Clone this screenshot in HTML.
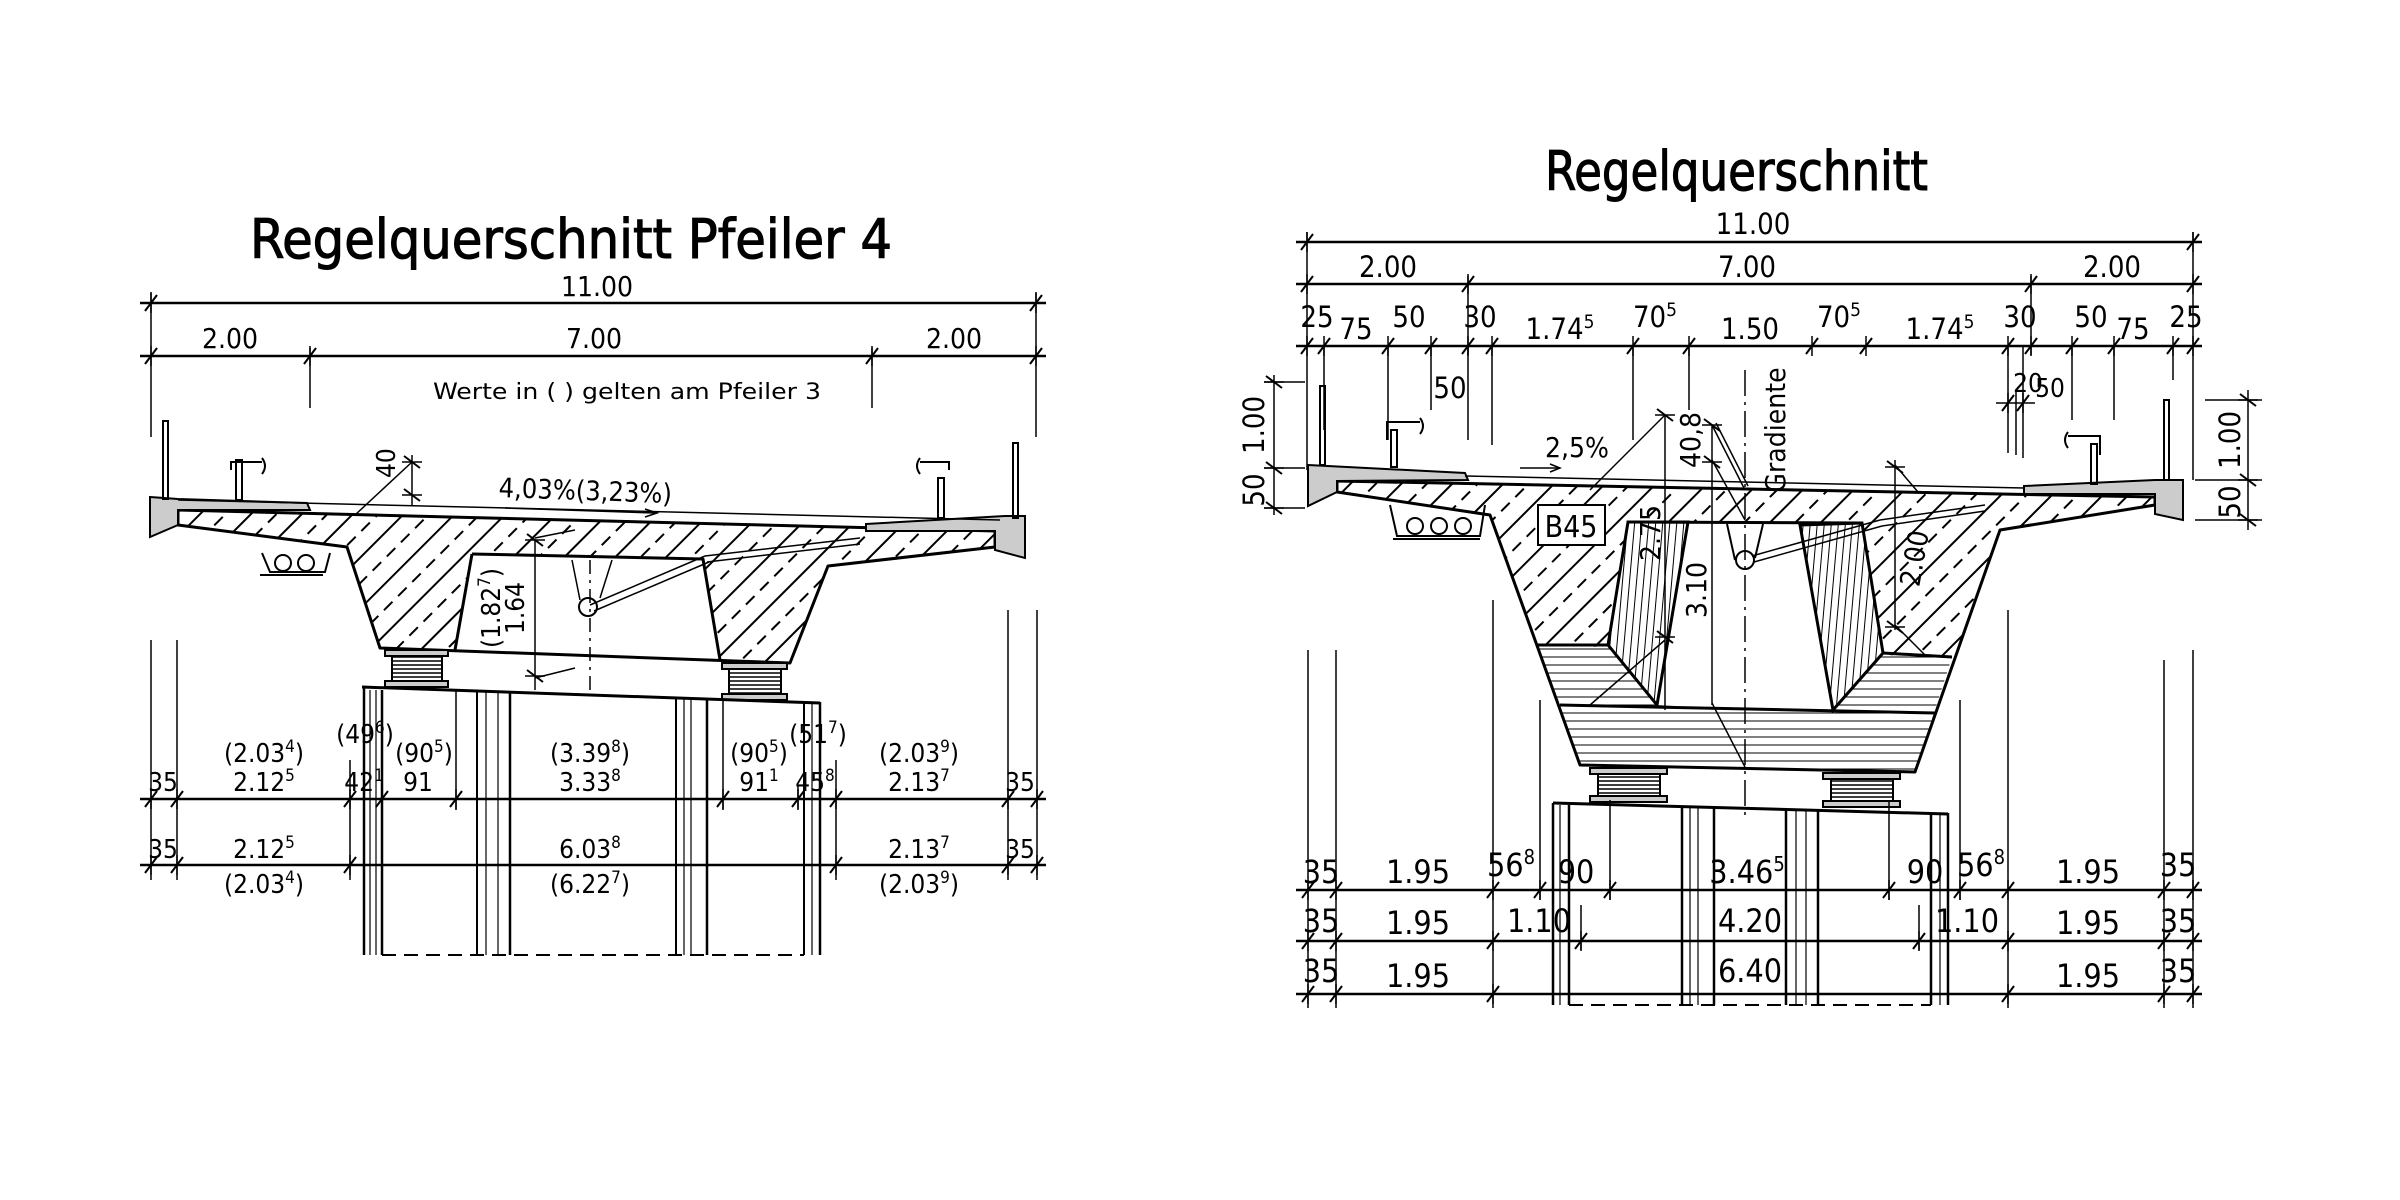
<!DOCTYPE html>
<html><head><meta charset="utf-8"><style>
html,body{margin:0;padding:0;background:#fff}
svg{display:block}
text{font-family:"Liberation Sans Narrow","DejaVu Sans Condensed","Liberation Sans",sans-serif;fill:#000}
.ttl{stroke:#000;stroke-width:1}
</style></head><body>
<svg width="2400" height="1200" viewBox="0 0 2400 1200" xmlns="http://www.w3.org/2000/svg">
<defs>
<pattern id="hd" patternUnits="userSpaceOnUse" width="40" height="36" patternTransform="rotate(-45)">
<line x1="0" y1="1" x2="40" y2="1" stroke="#000" stroke-width="2"/>
<line x1="0" y1="19" x2="40" y2="19" stroke="#000" stroke-width="2" stroke-dasharray="12,8"/>
</pattern>
<pattern id="hh" patternUnits="userSpaceOnUse" width="40" height="8">
<line x1="0" y1="1" x2="40" y2="1" stroke="#000" stroke-width="1"/>
</pattern>
<pattern id="hv" patternUnits="userSpaceOnUse" width="7" height="40" patternTransform="rotate(5)">
<line x1="1" y1="0" x2="1" y2="40" stroke="#000" stroke-width="1"/>
</pattern>
<pattern id="br" patternUnits="userSpaceOnUse" width="20" height="4">
<line x1="0" y1="1" x2="20" y2="1" stroke="#000" stroke-width="1.5"/>
</pattern>
<g id="t"><line x1="-6" y1="8" x2="6" y2="-8" stroke="#000" stroke-width="2"/><line x1="0" y1="-10" x2="0" y2="10" stroke="#000" stroke-width="1.5"/></g>
<g id="tv"><line x1="-8" y1="-6" x2="8" y2="6" stroke="#000" stroke-width="2"/><line x1="-10" y1="0" x2="10" y2="0" stroke="#000" stroke-width="1.5"/></g>
</defs>

<!-- ================= LEFT DRAWING ================= -->
<text class="ttl" x="250" y="258" font-size="54" textLength="642" lengthAdjust="spacingAndGlyphs">Regelquerschnitt  Pfeiler  4</text>

<g stroke="#000" stroke-width="2.5" fill="none">
<line x1="140" y1="303" x2="1046" y2="303"/>
<line x1="140" y1="356" x2="1046" y2="356"/>
</g>
<g stroke="#000" stroke-width="1.5">
<line x1="151" y1="292" x2="151" y2="437"/>
<line x1="1036" y1="292" x2="1036" y2="437"/>
<line x1="310" y1="348" x2="310" y2="408"/>
<line x1="872" y1="348" x2="872" y2="408"/>
</g>
<use href="#t" x="151" y="303"/><use href="#t" x="1036" y="303"/>
<use href="#t" x="151" y="356"/><use href="#t" x="310" y="356"/><use href="#t" x="872" y="356"/><use href="#t" x="1036" y="356"/>
<text x="597" y="296" font-size="28" text-anchor="middle">11.00</text>
<text x="230" y="348" font-size="28" text-anchor="middle">2.00</text>
<text x="594" y="348" font-size="28" text-anchor="middle">7.00</text>
<text x="954" y="348" font-size="28" text-anchor="middle">2.00</text>
<text x="433" y="399" font-size="22" textLength="388" lengthAdjust="spacingAndGlyphs">Werte in ( ) gelten am Pfeiler 3</text>

<polygon points="178,510 995,531 995,547 828,566 790,663 380,648 347,547 178,525" fill="url(#hd)"/>
<polygon points="472,554 703,559 720,660 455,650" fill="#fff"/>
<g stroke="#000" stroke-width="3" fill="none" stroke-linejoin="round">
<polygon points="178,510 995,531 995,547 828,566 790,663 380,648 347,547 178,525"/>
<polyline points="472,554 703,559 720,660"/>
<line x1="472" y1="554" x2="455" y2="650"/>
</g>
<polygon points="150,497 178,499 307,503 310,510 178,510 178,525 150,537" fill="#ccc" stroke="#000" stroke-width="2"/>
<polygon points="866,524 1005,516 1025,516 1025,558 995,550 995,531 866,531" fill="#ccc" stroke="#000" stroke-width="2"/>
<line x1="178" y1="500" x2="1000" y2="520" stroke="#000" stroke-width="1.5"/>
<g stroke="#000" stroke-width="2" fill="none">
<rect x="163" y="421" width="5" height="78"/>
<rect x="1013" y="443" width="5" height="75"/>
<rect x="236" y="460" width="6" height="40"/>
<polyline points="231,470 231,462 262,462"/>
<path d="M262,458 q6,8 0,16"/>
<rect x="938" y="478" width="6" height="40"/>
<polyline points="949,470 949,462 920,462"/>
<path d="M920,458 q-6,8 0,16"/>
<polyline points="262,553 270,572 325,572 330,553"/>
<circle cx="283" cy="563" r="8"/><circle cx="306" cy="563" r="8"/>
<line x1="260" y1="575" x2="323" y2="575"/>
</g>
<g stroke="#000" stroke-width="1.5" fill="none">
<line x1="590" y1="605" x2="705" y2="556"/>
<line x1="594" y1="611" x2="709" y2="562"/>
<line x1="705" y1="556" x2="860" y2="538"/>
<line x1="707" y1="562" x2="860" y2="544"/>
<circle cx="588" cy="607" r="9" stroke-width="2"/>
<polyline points="572,560 580,600"/><polyline points="612,560 600,598"/>
<line x1="590" y1="560" x2="590" y2="690" stroke-dasharray="14,6,3,6"/>
</g>
<g stroke="#000" stroke-width="1.5">
<line x1="355" y1="515" x2="412" y2="462"/>
<line x1="412" y1="455" x2="412" y2="505"/>
<line x1="505" y1="508" x2="655" y2="513"/>
<line x1="535" y1="540" x2="535" y2="690"/>
<line x1="535" y1="538" x2="575" y2="530"/>
<line x1="535" y1="678" x2="575" y2="668"/>
</g>
<use href="#tv" x="412" y="462"/><use href="#tv" x="412" y="495"/>
<use href="#tv" x="535" y="540"/><use href="#tv" x="535" y="676"/>
<path d="M645,509 l12,4 l-12,4" fill="none" stroke="#000" stroke-width="1.5"/>
<text x="395" y="478" font-size="26" transform="rotate(-90 395 478)">40</text>
<text x="585" y="500" font-size="27" text-anchor="middle" transform="rotate(2 585 500)">4,03%(3,23%)</text>
<text x="0" y="0" font-size="26" text-anchor="middle" transform="translate(500,608) rotate(-90)">(1.82<tspan font-size="17" dy="-10">7</tspan><tspan dy="10">)</tspan></text>
<text x="0" y="0" font-size="26" text-anchor="middle" transform="translate(524,608) rotate(-90)">1.64</text>
<g stroke="#000" stroke-width="2">
<rect x="385" y="650" width="63" height="6" fill="#ccc"/>
<rect x="392" y="656" width="50" height="25" fill="url(#br)"/>
<rect x="385" y="681" width="63" height="6" fill="#ccc"/>
<rect x="722" y="663" width="65" height="6" fill="#ccc"/>
<rect x="729" y="669" width="52" height="25" fill="url(#br)"/>
<rect x="722" y="694" width="65" height="6" fill="#ccc"/>
</g>
<g stroke="#000" fill="none">
<line x1="362" y1="687" x2="820" y2="703" stroke-width="3"/>
<line x1="364" y1="687" x2="364" y2="955" stroke-width="2.5"/>
<line x1="370" y1="690" x2="370" y2="955" stroke-width="1.2"/>
<line x1="376" y1="690" x2="376" y2="955" stroke-width="1.2"/>
<line x1="382" y1="690" x2="382" y2="955" stroke-width="2.5"/>
<line x1="477" y1="692" x2="477" y2="955" stroke-width="2"/>
<line x1="486" y1="692" x2="486" y2="955" stroke-width="1.2"/>
<line x1="498" y1="692" x2="498" y2="955" stroke-width="1.2"/>
<line x1="510" y1="692" x2="510" y2="955" stroke-width="2.5"/>
<line x1="676" y1="698" x2="676" y2="955" stroke-width="2"/>
<line x1="684" y1="698" x2="684" y2="955" stroke-width="1.2"/>
<line x1="691" y1="698" x2="691" y2="955" stroke-width="1.2"/>
<line x1="707" y1="698" x2="707" y2="955" stroke-width="2.5"/>
<line x1="804" y1="702" x2="804" y2="955" stroke-width="2"/>
<line x1="812" y1="702" x2="812" y2="955" stroke-width="1.2"/>
<line x1="820" y1="702" x2="820" y2="955" stroke-width="2.5"/>
<line x1="382" y1="955" x2="804" y2="955" stroke-width="2" stroke-dasharray="14,8"/>
</g>
<g stroke="#000" stroke-width="2.5">
<line x1="140" y1="799" x2="1046" y2="799"/>
<line x1="140" y1="865" x2="1046" y2="865"/>
</g>
<g stroke="#000" stroke-width="1.5">
<line x1="151" y1="640" x2="151" y2="880"/>
<line x1="177" y1="640" x2="177" y2="880"/>
<line x1="1008" y1="610" x2="1008" y2="880"/>
<line x1="1037" y1="610" x2="1037" y2="880"/>
<line x1="350" y1="760" x2="350" y2="880"/>
<line x1="456" y1="690" x2="456" y2="810"/>
<line x1="723" y1="700" x2="723" y2="810"/>
<line x1="836" y1="760" x2="836" y2="880"/>
<line x1="798" y1="785" x2="798" y2="810"/>
</g>
<use href="#t" x="151" y="799"/><use href="#t" x="177" y="799"/><use href="#t" x="350" y="799"/><use href="#t" x="382" y="799"/><use href="#t" x="456" y="799"/><use href="#t" x="723" y="799"/><use href="#t" x="798" y="799"/><use href="#t" x="836" y="799"/><use href="#t" x="1008" y="799"/><use href="#t" x="1037" y="799"/>
<use href="#t" x="151" y="865"/><use href="#t" x="177" y="865"/><use href="#t" x="350" y="865"/><use href="#t" x="836" y="865"/><use href="#t" x="1008" y="865"/><use href="#t" x="1037" y="865"/>
<g font-size="26" text-anchor="middle">
<text x="264" y="762">(2.03<tspan font-size="17" dy="-10">4</tspan><tspan dy="10">)</tspan></text>
<text x="365" y="743">(49<tspan font-size="17" dy="-10">6</tspan><tspan dy="10">)</tspan></text>
<text x="424" y="762">(90<tspan font-size="17" dy="-10">5</tspan><tspan dy="10">)</tspan></text>
<text x="590" y="762">(3.39<tspan font-size="17" dy="-10">8</tspan><tspan dy="10">)</tspan></text>
<text x="759" y="762">(90<tspan font-size="17" dy="-10">5</tspan><tspan dy="10">)</tspan></text>
<text x="818" y="743">(51<tspan font-size="17" dy="-10">7</tspan><tspan dy="10">)</tspan></text>
<text x="919" y="762">(2.03<tspan font-size="17" dy="-10">9</tspan><tspan dy="10">)</tspan></text>
<text x="163" y="791">35</text>
<text x="264" y="791">2.12<tspan font-size="17" dy="-10">5</tspan></text>
<text x="364" y="791">42<tspan font-size="17" dy="-10">1</tspan></text>
<text x="418" y="791">91</text>
<text x="590" y="791">3.33<tspan font-size="17" dy="-10">8</tspan></text>
<text x="759" y="791">91<tspan font-size="17" dy="-10">1</tspan></text>
<text x="815" y="791">45<tspan font-size="17" dy="-10">8</tspan></text>
<text x="919" y="791">2.13<tspan font-size="17" dy="-10">7</tspan></text>
<text x="1020" y="791">35</text>
<text x="163" y="858">35</text>
<text x="264" y="858">2.12<tspan font-size="17" dy="-10">5</tspan></text>
<text x="590" y="858">6.03<tspan font-size="17" dy="-10">8</tspan></text>
<text x="919" y="858">2.13<tspan font-size="17" dy="-10">7</tspan></text>
<text x="1020" y="858">35</text>
<text x="264" y="893">(2.03<tspan font-size="17" dy="-10">4</tspan><tspan dy="10">)</tspan></text>
<text x="590" y="893">(6.22<tspan font-size="17" dy="-10">7</tspan><tspan dy="10">)</tspan></text>
<text x="919" y="893">(2.03<tspan font-size="17" dy="-10">9</tspan><tspan dy="10">)</tspan></text>
</g>

<!-- ================= RIGHT DRAWING ================= -->
<text class="ttl" x="1545" y="190" font-size="54" textLength="383" lengthAdjust="spacingAndGlyphs">Regelquerschnitt</text>
<g stroke="#000" stroke-width="2.5">
<line x1="1296" y1="242" x2="2202" y2="242"/>
<line x1="1296" y1="284" x2="2202" y2="284"/>
<line x1="1296" y1="346" x2="2202" y2="346"/>
</g>
<use href="#t" x="1307" y="242"/><use href="#t" x="2193" y="242"/>
<use href="#t" x="1307" y="284"/><use href="#t" x="1468" y="284"/><use href="#t" x="2031" y="284"/><use href="#t" x="2193" y="284"/>
<use href="#t" x="1307" y="346"/><use href="#t" x="1324" y="346"/><use href="#t" x="1388" y="346"/><use href="#t" x="1431" y="346"/><use href="#t" x="1468" y="346"/><use href="#t" x="1492" y="346"/><use href="#t" x="1633" y="346"/><use href="#t" x="1689" y="346"/><use href="#t" x="1812" y="346"/><use href="#t" x="1866" y="346"/><use href="#t" x="2008" y="346"/><use href="#t" x="2031" y="346"/><use href="#t" x="2072" y="346"/><use href="#t" x="2114" y="346"/><use href="#t" x="2173" y="346"/><use href="#t" x="2193" y="346"/>
<g stroke="#000" stroke-width="1.5">
<line x1="1307" y1="232" x2="1307" y2="470"/>
<line x1="2193" y1="232" x2="2193" y2="480"/>
<line x1="1468" y1="276" x2="1468" y2="355"/>
<line x1="2031" y1="276" x2="2031" y2="355"/>
<line x1="1324" y1="346" x2="1324" y2="430"/>
<line x1="1388" y1="346" x2="1388" y2="440"/>
<line x1="1431" y1="346" x2="1431" y2="410"/>
<line x1="1468" y1="346" x2="1468" y2="440"/>
<line x1="1492" y1="346" x2="1492" y2="445"/>
<line x1="1633" y1="346" x2="1633" y2="440"/>
<line x1="1689" y1="346" x2="1689" y2="410"/>
<line x1="2008" y1="346" x2="2008" y2="453"/>
<line x1="2016" y1="390" x2="2016" y2="455"/>
<line x1="2023" y1="346" x2="2023" y2="458"/>
<line x1="2072" y1="346" x2="2072" y2="420"/>
<line x1="2114" y1="346" x2="2114" y2="420"/>
<line x1="2173" y1="346" x2="2173" y2="380"/>
<line x1="1996" y1="403" x2="2035" y2="403"/>
<line x1="1274" y1="375" x2="1274" y2="515"/>
<line x1="1264" y1="382" x2="1305" y2="382"/>
<line x1="1264" y1="468" x2="1305" y2="468"/>
<line x1="1264" y1="508" x2="1305" y2="508"/>
<line x1="2248" y1="390" x2="2248" y2="530"/>
<line x1="2205" y1="400" x2="2262" y2="400"/>
<line x1="2195" y1="480" x2="2262" y2="480"/>
<line x1="2195" y1="520" x2="2262" y2="520"/>
</g>
<use href="#tv" x="1274" y="382"/><use href="#tv" x="1274" y="468"/><use href="#tv" x="1274" y="508"/>
<use href="#tv" x="2248" y="400"/><use href="#tv" x="2248" y="480"/><use href="#tv" x="2248" y="520"/>
<use href="#t" x="2008" y="403"/><use href="#t" x="2023" y="403"/>
<g font-size="29" text-anchor="middle">
<text x="1753" y="234">11.00</text>
<text x="1388" y="277">2.00</text>
<text x="1747" y="277">7.00</text>
<text x="2112" y="277">2.00</text>
<text x="1317" y="327">25</text>
<text x="1356" y="339">75</text>
<text x="1409" y="327">50</text>
<text x="1480" y="327">30</text>
<text x="1560" y="339">1.74<tspan font-size="19" dy="-11">5</tspan></text>
<text x="1655" y="327">70<tspan font-size="19" dy="-11">5</tspan></text>
<text x="1750" y="339">1.50</text>
<text x="1839" y="327">70<tspan font-size="19" dy="-11">5</tspan></text>
<text x="1940" y="339">1.74<tspan font-size="19" dy="-11">5</tspan></text>
<text x="2020" y="327">30</text>
<text x="2091" y="327">50</text>
<text x="2133" y="339">75</text>
<text x="2186" y="327">25</text>
<text x="1450" y="398">50</text>
<text x="2028" y="392" font-size="26">20</text>
<text x="2050" y="397" font-size="26">50</text>
</g>
<text x="0" y="0" font-size="29" text-anchor="middle" transform="translate(1264,425) rotate(-90)">1.00</text>
<text x="0" y="0" font-size="29" text-anchor="middle" transform="translate(1264,490) rotate(-90)">50</text>
<text x="0" y="0" font-size="29" text-anchor="middle" transform="translate(2240,440) rotate(-90)">1.00</text>
<text x="0" y="0" font-size="29" text-anchor="middle" transform="translate(2240,502) rotate(-90)">50</text>

<polygon points="1337,481 2155,497 2155,505 2000,530 1915,772 1580,765 1490,515 1337,492" fill="url(#hd)"/>
<polygon points="1536,645 1952,657 1915,772 1580,765" fill="#fff"/>
<polygon points="1536,645 1952,657 1915,772 1580,765" fill="url(#hh)"/>
<polygon points="1628,522 1862,523 1883,653 1833,710 1657,705 1608,645" fill="#fff"/>
<polygon points="1628,522 1688,522 1657,705 1608,645" fill="url(#hv)" stroke="#000" stroke-width="3"/>
<polygon points="1800,525 1862,523 1883,653 1833,710" fill="url(#hv)" stroke="#000" stroke-width="3"/>
<g stroke="#000" stroke-width="3" fill="none" stroke-linejoin="round">
<polygon points="1337,481 2155,497 2155,505 2000,530 1915,772 1580,765 1490,515 1337,492"/>
<line x1="1628" y1="522" x2="1862" y2="523"/>
<line x1="1536" y1="645" x2="1608" y2="645"/>
<line x1="1883" y1="653" x2="1952" y2="657"/>
<line x1="1560" y1="705" x2="1935" y2="713"/>
</g>
<polygon points="1308,465 1465,473 1468,480 1337,481 1337,492 1308,506" fill="#ccc" stroke="#000" stroke-width="2"/>
<polygon points="2024,486 2155,480 2183,480 2183,520 2155,514 2155,494 2024,494" fill="#ccc" stroke="#000" stroke-width="2"/>
<line x1="1465" y1="476" x2="2024" y2="488" stroke="#000" stroke-width="1.5"/>
<g stroke="#000" stroke-width="2" fill="none">
<rect x="1320" y="386" width="5" height="79"/>
<rect x="2164" y="400" width="5" height="80"/>
<rect x="1391" y="430" width="6" height="37"/>
<polyline points="1387,440 1387,422 1420,422"/>
<path d="M1420,418 q6,8 0,16"/>
<rect x="2091" y="444" width="6" height="40"/>
<polyline points="2100,455 2100,436 2068,436"/>
<path d="M2068,432 q-6,8 0,16"/>
<polyline points="1390,505 1397,536 1480,536 1485,505"/>
<circle cx="1415" cy="526" r="8"/><circle cx="1439" cy="526" r="8"/><circle cx="1463" cy="526" r="8"/>
<line x1="1393" y1="539" x2="1480" y2="539"/>
<circle cx="1745" cy="560" r="9"/>
<polyline points="1727,524 1735,560"/><polyline points="1763,524 1755,558"/>
<line x1="1752" y1="556" x2="1880" y2="520" stroke-width="1.5"/>
<line x1="1754" y1="562" x2="1882" y2="526" stroke-width="1.5"/>
<line x1="1880" y1="520" x2="1985" y2="505" stroke-width="1.5"/>
<line x1="1882" y1="526" x2="1985" y2="511" stroke-width="1.5"/>
</g>
<line x1="1745" y1="370" x2="1745" y2="820" stroke="#000" stroke-width="1.5" stroke-dasharray="26,6,3,6"/>
<g stroke="#000" stroke-width="1.5">
<line x1="1665" y1="415" x2="1665" y2="710"/>
<line x1="1665" y1="415" x2="1590" y2="490"/>
<line x1="1712" y1="425" x2="1712" y2="705"/>
<line x1="1712" y1="425" x2="1745" y2="490"/>
<line x1="1716" y1="423" x2="1748" y2="486"/>
<line x1="1712" y1="460" x2="1745" y2="520"/>
<line x1="1712" y1="703" x2="1745" y2="767"/>
<line x1="1665" y1="640" x2="1590" y2="705"/>
<line x1="1895" y1="460" x2="1895" y2="630"/>
<line x1="1895" y1="465" x2="1918" y2="492"/>
<line x1="1895" y1="625" x2="1925" y2="655"/>
<line x1="1520" y1="468" x2="1558" y2="468"/>
</g>
<use href="#tv" x="1665" y="415"/><use href="#tv" x="1665" y="637"/>
<use href="#tv" x="1712" y="425"/><use href="#tv" x="1712" y="462"/>
<use href="#tv" x="1895" y="467"/><use href="#tv" x="1895" y="627"/>
<path d="M1550,464 l10,4 l-10,4" fill="none" stroke="#000" stroke-width="1.5"/>
<text x="1545" y="457" font-size="28">2,5%</text>
<rect x="1538" y="505" width="67" height="40" fill="#fff" stroke="#000" stroke-width="2"/>
<text x="1571" y="537" font-size="30" text-anchor="middle">B45</text>
<text x="0" y="0" font-size="28" text-anchor="middle" transform="translate(1660,533) rotate(-90)">2.75</text>
<text x="0" y="0" font-size="28" text-anchor="middle" transform="translate(1706,590) rotate(-90)">3.10</text>
<text x="0" y="0" font-size="28" text-anchor="middle" transform="translate(1700,440) rotate(-90)">40,8</text>
<text x="0" y="0" font-size="28" text-anchor="middle" transform="translate(1924,560) rotate(-80)">2.00</text>
<text x="0" y="0" font-size="28" text-anchor="middle" transform="translate(1785,430) rotate(-90)">Gradiente</text>
<g stroke="#000" stroke-width="2">
<rect x="1590" y="768" width="77" height="6" fill="#ccc"/>
<rect x="1598" y="774" width="62" height="22" fill="url(#br)"/>
<rect x="1590" y="796" width="77" height="6" fill="#ccc"/>
<rect x="1823" y="773" width="77" height="6" fill="#ccc"/>
<rect x="1831" y="779" width="62" height="22" fill="url(#br)"/>
<rect x="1823" y="801" width="77" height="6" fill="#ccc"/>
</g>
<g stroke="#000" fill="none">
<line x1="1553" y1="803" x2="1948" y2="814" stroke-width="3"/>
<line x1="1553" y1="803" x2="1553" y2="1005" stroke-width="2.5"/>
<line x1="1560" y1="805" x2="1560" y2="1005" stroke-width="1.2"/>
<line x1="1569" y1="805" x2="1569" y2="1005" stroke-width="2.5"/>
<line x1="1682" y1="807" x2="1682" y2="1005" stroke-width="2.5"/>
<line x1="1690" y1="807" x2="1690" y2="1005" stroke-width="1.2"/>
<line x1="1698" y1="807" x2="1698" y2="1005" stroke-width="1.2"/>
<line x1="1714" y1="807" x2="1714" y2="1005" stroke-width="2.5"/>
<line x1="1786" y1="810" x2="1786" y2="1005" stroke-width="2.5"/>
<line x1="1796" y1="810" x2="1796" y2="1005" stroke-width="1.2"/>
<line x1="1806" y1="810" x2="1806" y2="1005" stroke-width="1.2"/>
<line x1="1818" y1="810" x2="1818" y2="1005" stroke-width="2.5"/>
<line x1="1931" y1="813" x2="1931" y2="1005" stroke-width="2.5"/>
<line x1="1940" y1="813" x2="1940" y2="1005" stroke-width="1.2"/>
<line x1="1948" y1="813" x2="1948" y2="1005" stroke-width="2.5"/>
<line x1="1569" y1="1005" x2="1931" y2="1005" stroke-width="2" stroke-dasharray="14,8"/>
</g>
<g stroke="#000" stroke-width="2.5">
<line x1="1296" y1="890" x2="2202" y2="890"/>
<line x1="1296" y1="941" x2="2202" y2="941"/>
<line x1="1296" y1="994" x2="2202" y2="994"/>
</g>
<g stroke="#000" stroke-width="1.5">
<line x1="1308" y1="650" x2="1308" y2="1008"/>
<line x1="1336" y1="650" x2="1336" y2="1008"/>
<line x1="1493" y1="600" x2="1493" y2="1008"/>
<line x1="2008" y1="610" x2="2008" y2="1008"/>
<line x1="2164" y1="660" x2="2164" y2="1008"/>
<line x1="2193" y1="650" x2="2193" y2="1008"/>
<line x1="1540" y1="700" x2="1540" y2="900"/>
<line x1="1960" y1="700" x2="1960" y2="900"/>
<line x1="1610" y1="800" x2="1610" y2="900"/>
<line x1="1889" y1="800" x2="1889" y2="900"/>
<line x1="1581" y1="905" x2="1581" y2="950"/>
<line x1="1919" y1="905" x2="1919" y2="950"/>
</g>
<use href="#t" x="1308" y="890"/><use href="#t" x="1336" y="890"/><use href="#t" x="1493" y="890"/><use href="#t" x="1540" y="890"/><use href="#t" x="1610" y="890"/><use href="#t" x="1889" y="890"/><use href="#t" x="1960" y="890"/><use href="#t" x="2008" y="890"/><use href="#t" x="2164" y="890"/><use href="#t" x="2193" y="890"/>
<use href="#t" x="1308" y="941"/><use href="#t" x="1336" y="941"/><use href="#t" x="1493" y="941"/><use href="#t" x="1581" y="941"/><use href="#t" x="1919" y="941"/><use href="#t" x="2008" y="941"/><use href="#t" x="2164" y="941"/><use href="#t" x="2193" y="941"/>
<use href="#t" x="1308" y="994"/><use href="#t" x="1336" y="994"/><use href="#t" x="1493" y="994"/><use href="#t" x="2008" y="994"/><use href="#t" x="2164" y="994"/><use href="#t" x="2193" y="994"/>
<g font-size="32" text-anchor="middle">
<text x="1321" y="883">35</text>
<text x="1418" y="883">1.95</text>
<text x="1511" y="876">56<tspan font-size="20" dy="-12">8</tspan></text>
<text x="1576" y="883">90</text>
<text x="1747" y="883">3.46<tspan font-size="20" dy="-12">5</tspan></text>
<text x="1925" y="883">90</text>
<text x="1981" y="876">56<tspan font-size="20" dy="-12">8</tspan></text>
<text x="2088" y="883">1.95</text>
<text x="2178" y="876">35</text>
<text x="1321" y="932">35</text>
<text x="1418" y="934">1.95</text>
<text x="1539" y="932">1.10</text>
<text x="1750" y="932">4.20</text>
<text x="1967" y="932">1.10</text>
<text x="2088" y="934">1.95</text>
<text x="2178" y="932">35</text>
<text x="1321" y="982">35</text>
<text x="1418" y="987">1.95</text>
<text x="1750" y="982">6.40</text>
<text x="2088" y="987">1.95</text>
<text x="2178" y="982">35</text>
</g>
</svg>
</body></html>
